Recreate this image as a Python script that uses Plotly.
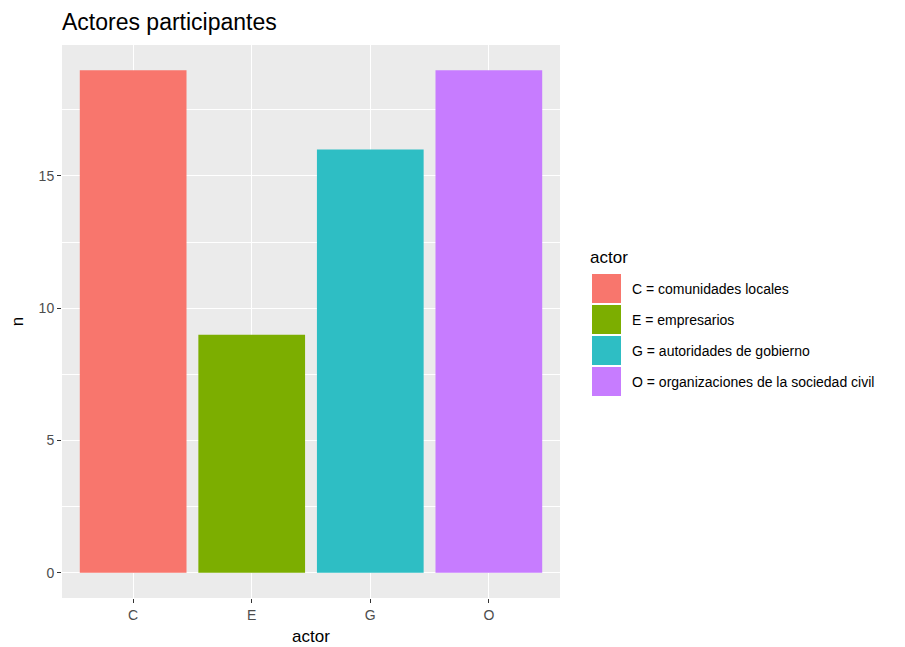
import plotly.graph_objects as go

categories = ["C", "E", "G", "O"]
counts = [19, 9, 16, 19]
legend_labels = [
    "C = comunidades locales",
    "E = empresarios",
    "G = autoridades de gobierno",
    "O = organizaciones de la sociedad civil",
]
colors = ["#F8766D", "#7CAE00", "#2EBEC4", "#C77CFF"]

W, H = 905, 647
OFF = 8  # page body margin
# target panel in screen pixels: x 62..560, y 45..598
L, T = 62 - OFF, 45 - OFF
PW, PH = 498, 553
R = W - L - PW
B = H - T - PH

def px_x(x):
    return (x - OFF - L) / PW

def px_y(y):
    return (T + PH - (y - OFF)) / PH

FONT = "Liberation Sans, Arial, sans-serif"

fig = go.Figure()
for cat, n, col in zip(categories, counts, colors):
    fig.add_trace(go.Bar(x=[cat], y=[n], marker=dict(color=col, line=dict(width=0)),
                         width=0.9, showlegend=False, name=cat))

ymax = max(counts)
fig.update_layout(
    width=W, height=H,
    margin=dict(l=L, r=R, t=T, b=B, autoexpand=False),
    paper_bgcolor="white",
    plot_bgcolor="#EBEBEB",
    font=dict(family=FONT, color="#4D4D4D"),
    title=dict(text="Actores participantes", x=0, xanchor="left", xref="paper",
               y=1 - (22 - OFF) / H, yanchor="middle", font=dict(size=23, color="black", family=FONT)),
    bargap=0.1,
    xaxis=dict(
        categoryorder="array", categoryarray=categories,
        range=[-0.6, len(categories) - 0.4],
        showgrid=True, gridcolor="white", gridwidth=1.2,
        ticks="outside", ticklen=4, tickcolor="#333333", tickwidth=1,
        tickfont=dict(size=14, color="#4D4D4D"),
        title=dict(text="actor", font=dict(size=17, color="black"), standoff=8),
        zeroline=False, showline=False, automargin=False,
    ),
    yaxis=dict(
        range=[-0.05 * ymax, ymax * 1.05],
        tickvals=[0, 5, 10, 15],
        showgrid=True, gridcolor="white", gridwidth=1.2,
        minor=dict(tickvals=[2.5, 7.5, 12.5, 17.5], showgrid=True, gridcolor="white", gridwidth=0.6),
        ticks="outside", ticklen=4, tickcolor="#333333", tickwidth=1,
        tickfont=dict(size=14, color="#4D4D4D"),
        title=dict(text="n", font=dict(size=17, color="black"), standoff=10),
        zeroline=False, showline=False, automargin=False,
    ),
)

# Legend (ggplot-style), drawn manually
fig.add_annotation(xref="paper", yref="paper", x=px_x(588), y=px_y(257), text="actor",
                   showarrow=False, xanchor="left", yanchor="middle",
                   font=dict(size=17, color="black", family=FONT))
key_top = 274
pitch = 31
for i, (lab, col) in enumerate(zip(legend_labels, colors)):
    y0 = key_top + i * pitch
    y1 = y0 + 29
    fig.add_shape(type="rect", xref="paper", yref="paper",
                  x0=px_x(592), x1=px_x(621), y0=px_y(y1), y1=px_y(y0),
                  fillcolor=col, line=dict(width=0), layer="above")
    fig.add_annotation(xref="paper", yref="paper", x=px_x(630), y=px_y((y0 + y1) / 2),
                       text=lab, showarrow=False, xanchor="left", yanchor="middle",
                       font=dict(size=14, color="black", family=FONT))

fig.write_html("out.html")
